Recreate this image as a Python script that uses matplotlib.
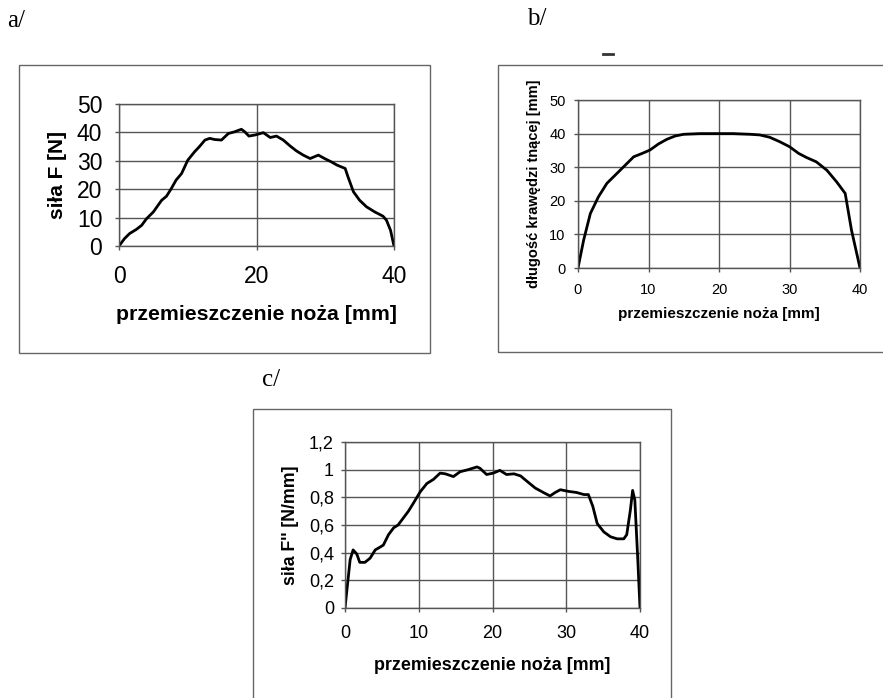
import matplotlib
matplotlib.use("Agg")
import matplotlib.pyplot as plt
from matplotlib.patches import Rectangle
from matplotlib.lines import Line2D

# ---------------- data ----------------
xa = [0, 0.8, 1.55, 2.5, 3.3, 4, 4.5, 5, 5.7, 6.2, 6.9, 7.6, 8.3, 9.1, 10, 11, 11.7,
      12.5, 13.2, 13.9, 14.9, 15.9, 16.8, 17.8, 18.3, 18.9, 19.8, 21, 22, 22.9, 23.9,
      24.9, 25.8, 26.8, 27.8, 29, 29.9, 30.9, 31.7, 32.9, 33.3, 34.1, 35, 36, 37.2,
      38.4, 38.9, 39.5, 40]
ya = [0, 2.6, 4.4, 5.8, 7.3, 9.6, 10.8, 12, 14.4, 16.1, 17.5, 20.2, 23.2, 25.5, 30.2,
      33.2, 35, 37.3, 37.9, 37.5, 37.3, 39.6, 40.2, 41.1, 40.2, 38.7, 39.1, 39.9, 38.2,
      38.7, 37.3, 35.2, 33.5, 32, 30.8, 32, 30.8, 29.6, 28.5, 27.3, 24.4, 19.1, 16.1,
      13.8, 12, 10.5, 9.1, 5.5, 0]

xb = [0, 0.8, 1.75, 2.9, 4.1, 5.5, 6.7, 7.9, 9.1, 10.2, 11.4, 12.6, 13.8, 15, 17.3,
      19.7, 22, 24.4, 25.8, 27.2, 28.6, 30, 31.3, 32.4, 33.8, 35.3, 36.7, 37.9, 38.8, 40]
yb = [0, 8.3, 16.2, 21.2, 25.2, 28.1, 30.6, 33.1, 34.1, 35.1, 36.9, 38.3, 39.3, 39.8, 40,
      40, 40, 39.8, 39.6, 38.9, 37.6, 36.1, 34.1, 32.9, 31.6, 29.1, 25.6, 22.2, 11.2, 0]

xc = [0, 0.3, 0.7, 1.1, 1.6, 2, 2.7, 3.4, 4.1, 4.75, 5.2, 5.9, 6.6, 7.2, 7.9, 8.6, 9.3,
      10.2, 11.1, 12, 12.9, 13.6, 14.7, 15.6, 16.7, 17.9, 18.3, 19.2, 20.1, 21, 21.9,
      22.9, 23.8, 24.7, 25.8, 26.9, 27.8, 28.5, 29.2, 30.3, 31.4, 32.4, 33, 33.6, 34.2,
      35.1, 36, 36.9, 37.8, 38.2, 38.7, 39, 39.3, 39.7, 40]
yc = [0, 0.15, 0.35, 0.42, 0.39, 0.33, 0.33, 0.36, 0.42, 0.44, 0.455, 0.53, 0.58, 0.60,
      0.65, 0.70, 0.76, 0.84, 0.90, 0.93, 0.975, 0.97, 0.95, 0.985, 1.0, 1.02, 1.01,
      0.965, 0.975, 0.995, 0.965, 0.97, 0.955, 0.915, 0.867, 0.835, 0.81, 0.835, 0.855,
      0.843, 0.835, 0.82, 0.82, 0.735, 0.61, 0.55, 0.515, 0.50, 0.50, 0.53, 0.71, 0.85,
      0.78, 0.35, 0]

xticks_a = [0, 20, 40]
yticks_a = [0, 10, 20, 30, 40, 50]
xticks_bc = [0, 10, 20, 30, 40]
yticks_b = [0, 10, 20, 30, 40, 50]
yticks_c = [0, 0.2, 0.4, 0.6, 0.8, 1.0, 1.2]
yticklabels_c = ["0", "0,2", "0,4", "0,6", "0,8", "1", "1,2"]

xlabel = "przemieszczenie noża [mm]"
ylabel_a = "siła F [N]"
ylabel_b = "długość krawędzi tnącej [mm]"
ylabel_c = "siła F'' [N/mm]"

# ---------------- figure ----------------
W, H = 883, 698
fig = plt.figure(figsize=(W / 100, H / 100), dpi=100)
plt.rcParams['font.family'] = ['Liberation Sans', 'DejaVu Sans']

def fbox(x0, y0, x1, y1):
    return [x0 / W, 1 - y1 / H, (x1 - x0) / W, (y1 - y0) / H]

GRID = '#555555'

def style(ax, fs_tick):
    ax.grid(True, color=GRID, lw=1.0)
    ax.set_axisbelow(True)
    for s in ax.spines.values():
        s.set_color(GRID)
        s.set_linewidth(1.0)
    ax.tick_params(direction='out', length=3, color=GRID, labelsize=fs_tick,
                   width=1.0)

# outer frames
for (x0, y0, x1, y1) in [(19, 65, 430, 353), (498, 65, 890, 352), (253, 409, 671, 710)]:
    fig.patches.append(Rectangle((x0 / W, 1 - y1 / H), (x1 - x0) / W, (y1 - y0) / H,
                                 transform=fig.transFigure, fill=False,
                                 edgecolor='#666666', lw=1.0))

# small scan mark above panel b
fig.add_artist(Line2D([603 / W, 613 / W], [1 - 54 / H, 1 - 54 / H],
                      transform=fig.transFigure, color='#333333', lw=2.0))

# panel a
axa = fig.add_axes(fbox(119, 104, 394, 246))
axa.plot(xa, ya, color='black', lw=2.0)
axa.set_xlim(0, 40); axa.set_ylim(0, 50)
axa.set_xticks(xticks_a); axa.set_yticks(yticks_a)
style(axa, 16.5)
axa.tick_params(axis='x', pad=11)
axa.tick_params(axis='y', pad=9)
axa.set_xlabel(xlabel, fontsize=15.3, fontweight='bold', labelpad=12)
axa.set_ylabel(ylabel_a, fontsize=15, fontweight='bold', labelpad=7)

# panel b
axb = fig.add_axes(fbox(578, 100, 860, 268))
axb.plot(xb, yb, color='black', lw=2.0)
axb.set_xlim(0, 40); axb.set_ylim(0, 50)
axb.set_xticks(xticks_bc); axb.set_yticks(yticks_b)
style(axb, 10.5)
axb.tick_params(axis='x', pad=8)
axb.tick_params(axis='y', pad=6)
axb.set_xlabel(xlabel, fontsize=11, fontweight='bold', labelpad=7)
axb.set_ylabel(ylabel_b, fontsize=10.5, fontweight='bold', labelpad=6)

# panel c
axc = fig.add_axes(fbox(345, 442, 640, 608))
axc.plot(xc, yc, color='black', lw=2.0)
axc.set_xlim(0, 40); axc.set_ylim(0, 1.2)
axc.set_xticks(xticks_bc); axc.set_yticks(yticks_c)
axc.set_yticklabels(yticklabels_c)
style(axc, 13)
axc.tick_params(axis='x', pad=9)
axc.tick_params(axis='y', pad=5)
axc.set_xlabel(xlabel, fontsize=12.9, fontweight='bold', labelpad=11)
axc.set_ylabel(ylabel_c, fontsize=12.8, fontweight='bold', labelpad=7)

# panel letters
serif = ['Liberation Serif', 'DejaVu Serif']
fig.text(7 / W, 1 - 21 / H, "a/", fontsize=18, family=serif, va='center', ha='left')
fig.text(527 / W, 1 - 19 / H, "b/", fontsize=18, family=serif, va='center', ha='left')
fig.text(262 / W, 1 - 380 / H, "c/", fontsize=18, family=serif, va='center', ha='left')

fig.savefig("out.png", dpi=100)
